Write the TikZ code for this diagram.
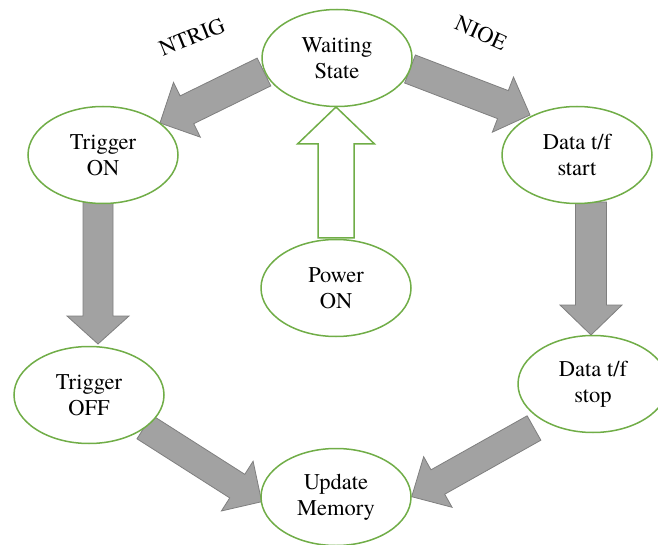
\documentclass[tikz,border=0pt]{standalone}
\usepackage{fontspec}
\IfFontExistsTF{TeX Gyre Termes}{\setmainfont{TeX Gyre Termes}}{\setmainfont{Liberation Serif}}
\usetikzlibrary{shapes.geometric,calc,backgrounds}
\definecolor{stgreen}{RGB}{112,173,71}
\definecolor{arrfill}{RGB}{162,162,162}
\definecolor{arrdraw}{RGB}{127,127,127}
\tikzset{
 state/.style={ellipse, draw=stgreen, line width=1.5pt, fill=white, minimum width=150pt, minimum height=97pt, inner sep=0pt, align=center, font=\rmfamily\fontsize{22.5}{26}\selectfont},
 grayarrow/.style={fill=arrfill, draw=arrdraw, line width=0.8pt, line join=miter},
 whitearrow/.style={fill=white, draw=stgreen, line width=1.5pt, line join=miter},
 lbl/.style={font=\rmfamily\fontsize{22.5}{26}\selectfont, inner sep=0pt}
}
% style, from, to, half shaft, half head, head length
\newcommand{\blockarrow}[6]{%
 \coordinate (hb) at ($(#3)!#6!(#2)$);
 \path[#1] ($(#2)!#4!90:(#3)$) -- ($(hb)!#4!90:(#3)$) -- ($(hb)!#5!90:(#3)$) -- (#3)
   -- ($(hb)!#5!-90:(#3)$) -- ($(hb)!#4!-90:(#3)$) -- ($(#2)!#4!-90:(#3)$) -- cycle;
}
\begin{document}
\begin{tikzpicture}[x=1pt,y=-1pt]
\useasboundingbox (0,0) rectangle (658,545);
\node[state] (ws) at (337,58) {Waiting\\State};
\node[state] (ton) at (103,155) {Trigger\\ON};
\node[state] (dstart) at (577,155) {Data t/f\\start};
\node[state] (pon) at (336,288) {Power\\ON};
\node[state] (toff) at (89,395) {Trigger\\OFF};
\node[state] (dstop) at (593,384) {Data t/f\\stop};
\node[state] (um) at (336,497) {Update\\Memory};

\coordinate (a1s) at ($(ws)+(-73,14)$);
\coordinate (a1e) at ($(ton)+(57,-32)$);
\coordinate (a2s) at ($(ws)+(73,11)$);
\coordinate (a2e) at ($(dstart)+(-47,-40)$);
\coordinate (a3s) at ($(pon)+(0,-50)$);
\coordinate (a3e) at ($(ws)+(-1,49)$);
\coordinate (a4s) at ($(ton)+(-5,47)$);
\coordinate (a4e) at ($(toff)+(9,-51)$);
\coordinate (a5s) at ($(dstart)+(14,47)$);
\coordinate (a5e) at ($(dstop)+(-2,-49)$);
\coordinate (a6s) at ($(toff)+(55.5,32)$);
\coordinate (a6e) at ($(um)+(-74.3,4.7)$);
\coordinate (a7s) at ($(dstop)+(-59,44)$);
\coordinate (a7e) at ($(um)+(75.7,-0.3)$);

\begin{scope}[on background layer]
\blockarrow{grayarrow}{a1s}{a1e}{15.5pt}{30.5pt}{30pt}
\blockarrow{grayarrow}{a2s}{a2e}{15pt}{29.5pt}{29pt}
\blockarrow{whitearrow}{a3s}{a3e}{18pt}{38.5pt}{37pt}
\blockarrow{grayarrow}{a4s}{a4e}{15pt}{31pt}{28pt}
\blockarrow{grayarrow}{a5s}{a5e}{15.5pt}{31pt}{30pt}
\blockarrow{grayarrow}{a6s}{a6e}{14pt}{29.5pt}{29pt}
\blockarrow{grayarrow}{a7s}{a7e}{14pt}{29pt}{30pt}
\end{scope}

\node[lbl, rotate=22] (ntrig) at (192,37) {NTRIG};
\node[lbl, rotate=-24] (nioe) at (481,33) {NIOE};
\end{tikzpicture}
\end{document}
